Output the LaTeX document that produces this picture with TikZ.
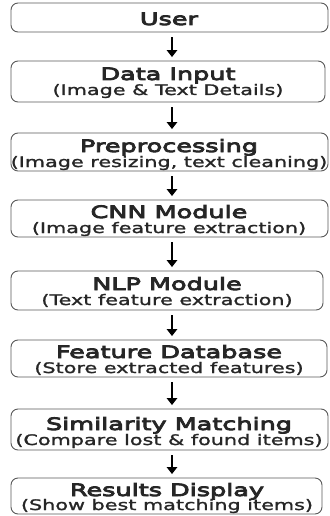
\documentclass[tikz,border=0pt]{standalone}
\usepackage{fontspec}
\setmainfont{DejaVu Sans}
\newfontfamily\titlefam[FakeStretch=1.50,FakeBold=5]{DejaVu Sans}
\newfontfamily\subfam[FakeStretch=1.43,FakeBold=1.5]{DejaVu Sans}
\usetikzlibrary{arrows.meta}
\newcommand\ttl[1]{{\titlefam\fontsize{17}{18}\selectfont #1}}
\newcommand\sbt[1]{{\subfam\fontsize{14.5}{16}\selectfont #1}}
\tikzset{
  box/.style={draw=black!65, line width=0.9pt, rounded corners=7pt, fill=white, inner sep=0pt},
  lbl/.style={anchor=base, inner sep=0pt, text=black!85},
  flow/.style={line width=1.3pt, -{Triangle[length=7pt,width=10.5pt]}, shorten <=5pt, shorten >=3.5pt}
}
\begin{document}
\begin{tikzpicture}[x=1pt,y=-1pt]
\useasboundingbox (0,0) rectangle (329,516);
% boxes: left, right, top, bottom
\foreach \n/\l/\r/\t/\b in {b1/11/328/3/32, b2/11/325/61/102, b3/11/328/133/171, b4/11/328/200/237,
                            b5/11/323/271/310, b6/11/327/340/377, b7/11/328/409/450, b8/11/322/478/514}
  \node[box, minimum width=\r pt-\l pt, minimum height=\b pt-\t pt] (\n) at ({(\l+\r)/2},{(\t+\b)/2}) {};
% labels
\node[lbl] (t1) at (169,25) {\ttl{User}};
\node[lbl] (t2) at (168,80) {\ttl{Data Input}};
\node[lbl] (s2) at (168,95) {\sbt{(Image \& Text Details)}};
\node[lbl] (t3) at (169,152) {\ttl{Preprocessing}};
\node[lbl] (s3) at (169,167) {\sbt{(Image resizing, text cleaning)}};
\node[lbl] (t4) at (169,218) {\ttl{CNN Module}};
\node[lbl] (s4) at (169,233) {\sbt{(Image feature extraction)}};
\node[lbl] (t5) at (167,290) {\ttl{NLP Module}};
\node[lbl] (s5) at (167,305) {\sbt{(Text feature extraction)}};
\node[lbl] (t6) at (169,358) {\ttl{Feature Database}};
\node[lbl] (s6) at (169,373) {\sbt{(Store extracted features)}};
\node[lbl] (t7) at (169,430) {\ttl{Similarity Matching}};
\node[lbl] (s7) at (169,445) {\sbt{(Compare lost \& found items)}};
\node[lbl] (t8) at (167,496) {\ttl{Results Display}};
\node[lbl] (s8) at (167,510) {\sbt{(Show best matching items)}};
% arrows
\foreach \a/\b in {b1/b2,b2/b3,b3/b4,b4/b5,b5/b6,b6/b7,b7/b8}
  \draw[flow] (\a.south -| 172,0) -- (\b.north -| 172,0);
\end{tikzpicture}
\end{document}
